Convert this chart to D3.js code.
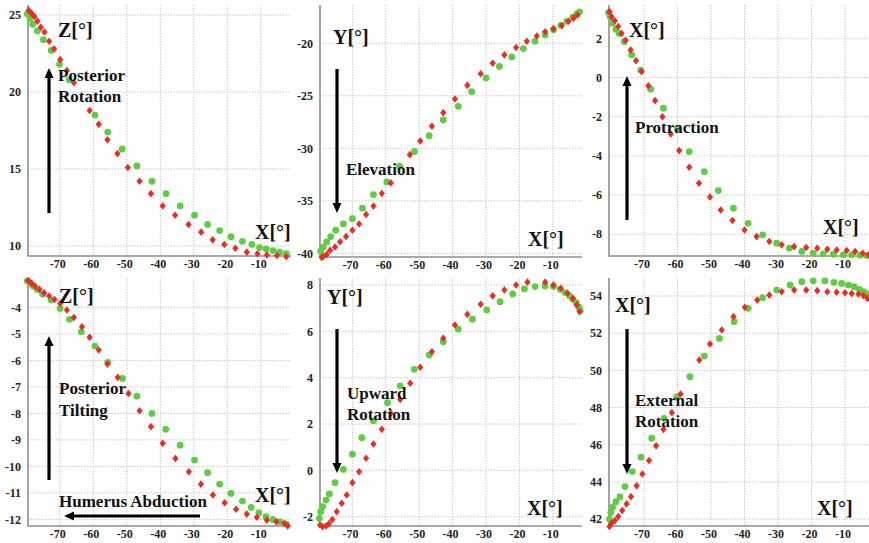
<!DOCTYPE html>
<html>
<head>
<meta charset="utf-8">
<script src="https://cdn.jsdelivr.net/npm/d3@7"></script>
<style>
  html, body { margin: 0; padding: 0; background: #fff; }
  svg { display: block; }
</style>
</head>
<body>
<svg id="chart" width="869" height="543" font-family="'Liberation Serif', 'DejaVu Serif', 'Times New Roman', serif" font-weight="bold"></svg>
<script>
// Shared humerus-abduction ticks (x axis of every panel)
const xTicks = [-70, -60, -50, -40, -30, -20, -10];

// Y tick values, one list per panel
const postRotTicks = [10, 15, 20, 25];
const elevTicks = [-40, -35, -30, -25, -20];
const protTicks = [-8, -6, -4, -2, 0, 2];
const tiltTicks = [-12, -11, -10, -9, -8, -7, -6, -5, -4];
const upRotTicks = [-2, 0, 2, 4, 6, 8];
const extRotTicks = [42, 44, 46, 48, 50, 52, 54];

// Posterior rotation Z[°] vs X[°]
const postRotRed = [[-79.3,25.3],[-78.4,25.1],[-77.6,24.9],[-76.7,24.6],[-75.7,24.2],[-74.6,23.9],[-73.2,23.3],[-71.7,22.8],[-69.9,22.1],[-67.9,21.4],[-65.8,20.6],[-61.1,18.8],[-58.4,17.9],[-55.8,16.9],[-52.8,16.0],[-49.7,15.1],[-46.2,14.2],[-42.8,13.4],[-39.3,12.6],[-35.6,12.0],[-31.6,11.4],[-27.8,10.9],[-24.4,10.4],[-20.9,10.1],[-17.6,9.85],[-14.2,9.6],[-11.0,9.5],[-8.2,9.42],[-5.2,9.38],[-2.4,9.3]];
const postRotGreen = [[-79.7,25.06],[-78.9,24.78],[-78.1,24.4],[-76.7,23.96],[-74.9,23.4],[-72.6,22.7],[-70.1,21.8],[-67.2,20.8],[-59.5,18.5],[-55.7,17.4],[-51.4,16.3],[-47.0,15.2],[-42.5,14.2],[-38.3,13.4],[-34.1,12.6],[-29.8,12.0],[-25.9,11.4],[-22.3,11.0],[-18.9,10.6],[-15.5,10.3],[-12.7,10.1],[-10.4,9.9],[-8.4,9.8],[-6.4,9.7],[-4.4,9.6],[-2.4,9.5]];

// Elevation Y[°] vs X[°]
const elevRed = [[-79.2,-40.4],[-78.7,-40.3],[-77.7,-40.1],[-76.7,-39.7],[-75.2,-39.4],[-73.7,-38.9],[-71.9,-38.4],[-70.0,-37.8],[-68.0,-37.2],[-65.9,-36.3],[-63.7,-35.5],[-61.2,-34.3],[-58.5,-33.3],[-52.8,-30.6],[-49.7,-29.3],[-46.2,-27.9],[-42.8,-26.6],[-39.3,-25.3],[-35.6,-24.0],[-31.6,-22.9],[-28.0,-21.9],[-24.5,-21.1],[-21.0,-20.4],[-17.8,-19.8],[-14.8,-19.3],[-12.3,-18.9],[-9.8,-18.6],[-7.3,-18.3],[-5.3,-17.9],[-3.8,-17.6],[-2.6,-17.3]];
const elevGreen = [[-79.5,-39.8],[-78.7,-39.4],[-77.7,-38.9],[-76.5,-38.4],[-75.0,-37.8],[-72.7,-37.2],[-70.0,-36.7],[-67.0,-35.7],[-63.7,-34.4],[-59.7,-33.2],[-55.9,-31.7],[-51.4,-30.3],[-47.0,-28.8],[-42.8,-27.3],[-38.3,-26.0],[-34.3,-24.6],[-30.0,-23.3],[-26.0,-22.2],[-22.3,-21.3],[-18.8,-20.5],[-15.3,-19.8],[-12.3,-19.2],[-9.8,-18.7],[-7.6,-18.3],[-5.8,-17.9],[-4.0,-17.5],[-2.8,-17.2],[-2.0,-17.0]];

// Protraction X[°] vs X[°]
const protRed = [[-80.3,3.36],[-79.7,3.1],[-78.7,2.9],[-77.7,2.6],[-76.7,2.25],[-75.5,1.9],[-74.0,1.4],[-72.4,0.86],[-70.7,0.3],[-68.7,-0.43],[-66.7,-1.18],[-64.5,-2.0],[-62.0,-2.88],[-59.5,-3.73],[-56.5,-4.58],[-53.6,-5.4],[-50.3,-6.1],[-47.1,-6.76],[-43.6,-7.3],[-40.0,-7.78],[-36.4,-8.12],[-32.6,-8.37],[-28.9,-8.54],[-25.2,-8.63],[-21.6,-8.68],[-18.3,-8.71],[-15.3,-8.77],[-12.5,-8.8],[-9.5,-8.83],[-7.0,-8.88],[-4.7,-8.97],[-3.0,-9.05]];
const protGreen = [[-80.6,3.31],[-80.1,3.1],[-79.4,2.77],[-78.4,2.46],[-77.4,2.25],[-75.9,1.83],[-73.7,1.15],[-71.0,0.38],[-68.0,-0.6],[-64.2,-1.57],[-60.0,-2.6],[-56.5,-3.78],[-52.0,-4.8],[-47.8,-5.77],[-43.3,-6.67],[-38.9,-7.44],[-34.6,-8.03],[-30.4,-8.46],[-26.6,-8.71],[-22.9,-8.88],[-19.5,-8.97],[-16.5,-9.0],[-13.5,-9.02],[-10.5,-9.04],[-8.0,-9.05],[-5.5,-9.07],[-3.5,-9.09]];

// Posterior tilting Z[°] vs X[°]
const tiltRed = [[-79.4,-2.99],[-78.4,-3.09],[-77.4,-3.2],[-76.1,-3.32],[-74.7,-3.45],[-73.2,-3.57],[-71.6,-3.7],[-69.9,-3.85],[-67.9,-4.1],[-65.8,-4.38],[-63.4,-4.73],[-61.1,-5.13],[-58.4,-5.61],[-55.8,-6.14],[-52.7,-6.64],[-49.5,-7.25],[-46.2,-7.9],[-42.8,-8.5],[-39.3,-9.13],[-35.5,-9.7],[-31.5,-10.2],[-27.9,-10.67],[-24.3,-11.08],[-20.8,-11.37],[-17.4,-11.62],[-14.2,-11.8],[-11.2,-11.92],[-8.2,-12.03],[-5.4,-12.09],[-3.0,-12.15],[-2.0,-12.25]];
const tiltGreen = [[-79.7,-3.0],[-78.9,-3.1],[-77.9,-3.2],[-76.7,-3.32],[-75.1,-3.5],[-72.6,-3.72],[-69.9,-4.04],[-67.1,-4.45],[-63.6,-4.92],[-59.5,-5.46],[-55.7,-6.08],[-51.3,-6.68],[-47.0,-7.35],[-42.5,-8.0],[-38.4,-8.6],[-34.1,-9.2],[-29.8,-9.76],[-25.9,-10.24],[-22.3,-10.67],[-18.9,-11.02],[-15.5,-11.31],[-12.9,-11.55],[-10.6,-11.75],[-8.5,-11.9],[-6.4,-12.0],[-4.4,-12.09],[-2.4,-12.18]];

// Upward rotation Y[°] vs X[°]
const upRotRed = [[-79.7,-2.36],[-78.9,-2.43],[-77.9,-2.4],[-77.0,-2.29],[-76.0,-2.12],[-74.7,-1.78],[-73.2,-1.42],[-71.7,-1.06],[-70.0,-0.53],[-68.0,-0.06],[-65.9,0.52],[-63.7,1.14],[-61.2,1.77],[-58.5,2.46],[-55.7,3.06],[-52.7,3.76],[-49.7,4.45],[-46.2,5.12],[-42.8,5.7],[-39.3,6.27],[-35.6,6.73],[-31.6,7.17],[-28.0,7.53],[-24.5,7.78],[-21.0,8.0],[-17.6,8.12],[-12.3,8.12],[-9.8,8.0],[-7.6,7.86],[-5.6,7.64],[-4.0,7.42],[-2.8,7.14],[-2.0,6.85]];
const upRotGreen = [[-79.9,-2.07],[-79.5,-1.78],[-78.9,-1.57],[-77.9,-1.28],[-76.9,-1.02],[-75.2,-0.53],[-72.7,0.04],[-70.0,0.7],[-67.2,1.41],[-63.7,2.14],[-59.5,2.92],[-55.7,3.65],[-51.5,4.36],[-47.0,4.98],[-42.8,5.55],[-38.3,6.09],[-34.1,6.52],[-29.8,6.92],[-25.8,7.28],[-22.0,7.61],[-18.5,7.83],[-15.3,7.93],[-12.3,7.96],[-9.8,7.93],[-7.8,7.81],[-6.3,7.67],[-5.0,7.53],[-4.0,7.38],[-3.0,7.24],[-2.2,7.04],[-1.8,6.89]];

// External rotation X[°] vs X[°]
const extRotRed = [[-80.3,41.6],[-79.7,41.78],[-78.7,41.92],[-77.7,42.14],[-76.5,42.46],[-75.2,42.82],[-73.9,43.21],[-72.2,43.79],[-70.5,44.43],[-68.5,45.15],[-66.4,45.94],[-64.2,46.83],[-61.7,47.73],[-59.1,48.73],[-53.5,50.56],[-50.3,51.42],[-46.8,52.17],[-43.3,52.89],[-39.9,53.39],[-36.2,53.78],[-32.6,54.05],[-28.9,54.23],[-25.2,54.32],[-21.6,54.32],[-18.3,54.29],[-15.3,54.23],[-12.5,54.2],[-10.0,54.18],[-8.0,54.14],[-6.0,54.11],[-4.5,54.02],[-3.3,53.87]];
const extRotGreen = [[-80.3,42.0],[-79.9,42.35],[-79.4,42.64],[-78.4,42.94],[-77.2,43.21],[-75.7,43.75],[-73.5,44.56],[-70.9,45.33],[-67.7,46.35],[-64.0,47.42],[-60.2,48.59],[-56.3,49.66],[-52.0,50.77],[-47.5,51.72],[-43.1,52.62],[-38.9,53.34],[-34.6,53.91],[-30.4,54.32],[-26.4,54.59],[-22.9,54.77],[-19.5,54.82],[-16.0,54.81],[-13.3,54.73],[-11.0,54.68],[-9.0,54.59],[-7.3,54.5],[-5.7,54.36],[-4.5,54.23],[-3.3,54.11]];

const RED = "#ec2b25";
const GREEN = "#5fcd42";

// Panel layout: pixel frame, value domains, annotations
const panels = [
  { red: postRotRed, green: postRotGreen, yTicks: postRotTicks,
    box: {l: 28, r: 291, t: 5, b: 256}, xDom: [-79.5, -1.0], yDom: [9.35, 25.65],
    yName: {text: "Z[°]", x: 58, y: 37}, xName: {x: 255, y: 239},
    words: {lines: ["Posterior", "Rotation"], x: 58, y: 81, step: 21},
    arrows: [[49, 213, 49, 68]] },
  { red: elevRed, green: elevGreen, yTicks: elevTicks,
    box: {l: 320, r: 582, t: 5, b: 257}, xDom: [-79.7, -1.26], yDom: [-40.35, -16.35],
    yName: {text: "Y[°]", x: 333, y: 44}, xName: {x: 528, y: 246},
    words: {lines: ["Elevation"], x: 346, y: 175, step: 21},
    arrows: [[337, 69, 337, 213]] },
  { red: protRed, green: protGreen, yTicks: protTicks,
    box: {l: 609, r: 869, t: 5, b: 256}, xDom: [-80.45, -2.84], yDom: [-9.11, 3.70],
    yName: {text: "X[°]", x: 629, y: 37}, xName: {x: 823, y: 234},
    words: {lines: ["Protraction"], x: 635, y: 133, step: 21},
    arrows: [[627, 220, 627, 76]] },
  { red: tiltRed, green: tiltGreen, yTicks: tiltTicks,
    box: {l: 28, r: 291, t: 278, b: 526}, xDom: [-79.5, -1.0], yDom: [-12.25, -2.89],
    yName: {text: "Z[°]", x: 59, y: 303}, xName: {x: 255, y: 502},
    words: {lines: ["Posterior", "Tilting"], x: 59, y: 394, step: 22},
    extraWords: {text: "Humerus Abduction", x: 59, y: 507},
    arrows: [[49, 480, 49, 336], [200, 516, 64, 516]] },
  { red: upRotRed, green: upRotGreen, yTicks: upRotTicks,
    box: {l: 320, r: 582, t: 278, b: 526}, xDom: [-79.7, -1.26], yDom: [-2.40, 8.30],
    yName: {text: "Y[°]", x: 327, y: 304}, xName: {x: 527, y: 515},
    words: {lines: ["Upward", "Rotation"], x: 347, y: 399, step: 21},
    arrows: [[337, 329, 337, 473]] },
  { red: extRotRed, green: extRotGreen, yTicks: extRotTicks,
    box: {l: 609, r: 869, t: 278, b: 526}, xDom: [-80.45, -2.84], yDom: [41.63, 54.97],
    yName: {text: "X[°]", x: 615, y: 312}, xName: {x: 817, y: 515},
    words: {lines: ["External", "Rotation"], x: 635, y: 406, step: 21},
    arrows: [[627, 329, 627, 474]] }
];

const svg = d3.select("#chart");
const SERIF = "'Liberation Serif', 'DejaVu Serif', 'Times New Roman', serif";

// Diamond marker path centred at 0,0
const diamond = "M0,-3.8L3.1,0L0,3.8L-3.1,0Z";

function drawArrow(g, x1, y1, x2, y2) {
  const dx = x2 - x1, dy = y2 - y1;
  const len = Math.hypot(dx, dy);
  const ux = dx / len, uy = dy / len;
  const head = 10, half = 4.5;
  const bx = x2 - ux * head, by = y2 - uy * head;
  g.append("line")
    .attr("x1", x1).attr("y1", y1).attr("x2", bx + ux).attr("y2", by + uy)
    .attr("stroke", "#000").attr("stroke-width", 3.2);
  g.append("path")
    .attr("d", `M${x2},${y2}L${bx - uy * half},${by + ux * half}L${bx + uy * half},${by - ux * half}Z`)
    .attr("fill", "#000");
}

function label(g, x, y, size, txt) {
  return g.append("text").attr("x", x).attr("y", y)
    .attr("font-family", SERIF).attr("font-weight", "bold")
    .attr("font-size", size).attr("fill", "#111").text(txt);
}

panels.forEach(p => {
  const x = d3.scaleLinear().domain(p.xDom).range([p.box.l, p.box.r]);
  const y = d3.scaleLinear().domain(p.yDom).range([p.box.b, p.box.t]);
  const g = svg.append("g");

  // dotted grid
  g.selectAll(".vg").data(xTicks).join("line")
    .attr("x1", d => x(d)).attr("x2", d => x(d))
    .attr("y1", p.box.t).attr("y2", p.box.b)
    .attr("stroke", "#bdbdbd").attr("stroke-width", 1).attr("stroke-dasharray", "1.2,1.6");
  g.selectAll(".hg").data(p.yTicks).join("line")
    .attr("x1", p.box.l).attr("x2", p.box.r)
    .attr("y1", d => y(d)).attr("y2", d => y(d))
    .attr("stroke", "#bdbdbd").attr("stroke-width", 1).attr("stroke-dasharray", "1.2,1.6");

  // axis lines
  g.append("path")
    .attr("d", `M${p.box.l},${p.box.t}V${p.box.b}H${p.box.r}`)
    .attr("fill", "none").attr("stroke", "#8e8e8e").attr("stroke-width", 1.6);

  // tick labels
  g.selectAll(".xt").data(xTicks).join("text")
    .attr("x", d => x(d) - 2).attr("y", p.box.b + 12)
    .attr("text-anchor", "middle")
    .attr("font-family", SERIF).attr("font-weight", "bold")
    .attr("font-size", 12).attr("fill", "#222")
    .text(d => d);
  g.selectAll(".yt").data(p.yTicks).join("text")
    .attr("x", p.box.l - 7).attr("y", d => y(d)).attr("dy", "0.35em")
    .attr("text-anchor", "end")
    .attr("font-family", SERIF).attr("font-weight", "bold")
    .attr("font-size", 12).attr("fill", "#222")
    .text(d => d);

  // series
  g.selectAll(".gp").data(p.green).join("circle")
    .attr("cx", d => x(d[0])).attr("cy", d => y(d[1])).attr("r", 3.4)
    .attr("fill", GREEN);
  g.selectAll(".rp").data(p.red).join("path")
    .attr("d", diamond)
    .attr("transform", d => `translate(${x(d[0])},${y(d[1])})`)
    .attr("fill", RED);

  // annotations
  label(g, p.yName.x, p.yName.y, 20, p.yName.text);
  label(g, p.xName.x, p.xName.y, 20, "X[°]");
  p.words.lines.forEach((w, i) => label(g, p.words.x, p.words.y + i * p.words.step, 17, w));
  if (p.extraWords) label(g, p.extraWords.x, p.extraWords.y, 17, p.extraWords.text);
  p.arrows.forEach(a => drawArrow(g, a[0], a[1], a[2], a[3]));
});
</script>
</body>
</html>
